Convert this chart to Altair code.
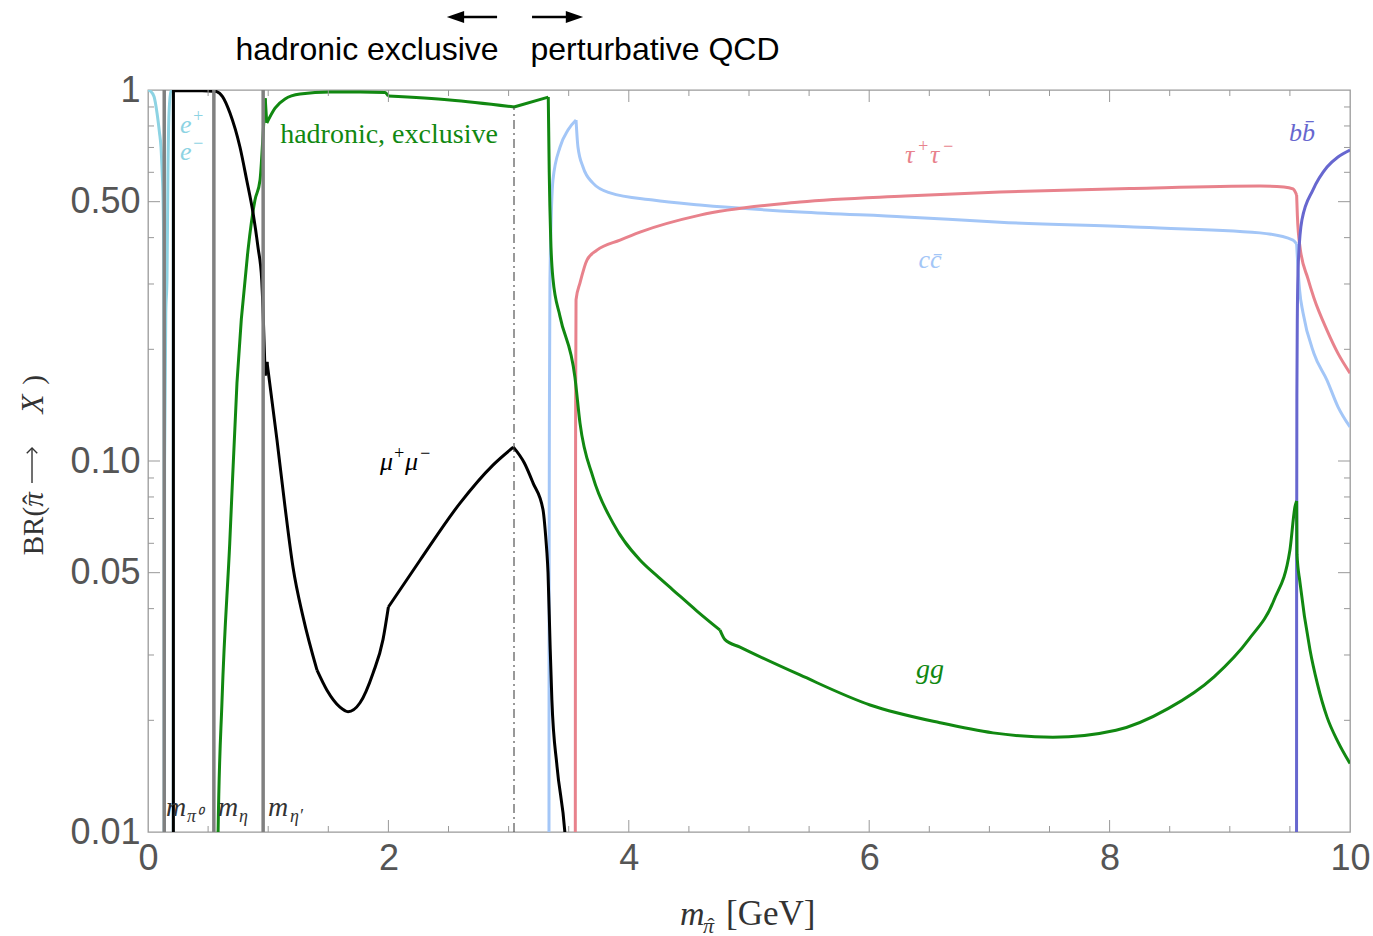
import altair as alt
import pandas as pd

W, H = 1202, 742

# ---------------- data ----------------
ee_x   = [0.0, 0.017, 0.05, 0.075, 0.095, 0.108, 0.118, 0.125, 0.131, 0.134, 0.1355,
          0.1355, 0.138, 0.148, 0.158, 0.166, 0.175, 0.19, 0.21, 0.2105]
ee_y   = [1.0, 0.995, 0.96, 0.867, 0.77, 0.702, 0.6, 0.515, 0.35, 0.15, 0.0005,
          0.0005, 0.1, 0.25, 0.31, 0.6, 0.867, 0.99, 0.995, 0.0005]
ee_seg = [0] * 11 + [1] * 9

mu_x = [0.2108, 0.2115, 0.3, 0.45, 0.54, 0.571, 0.62, 0.682, 0.765, 0.821, 0.874, 0.915, 0.946, 0.958, 0.975,
        0.975, 0.99,
        0.99, 1.073, 1.14, 1.206, 1.29, 1.406,
        1.406, 1.489, 1.597, 1.664, 1.764, 1.872, 1.955, 2.0,
        2.0, 2.263, 2.596, 2.87, 3.04,
        3.04, 3.13, 3.203, 3.286, 3.319,
        3.319, 3.328, 3.345, 3.36, 3.403, 3.469, 3.52]
mu_y = [0.0005, 0.995, 0.995, 0.995, 0.993, 0.99, 0.96, 0.867, 0.702, 0.572, 0.466, 0.377, 0.308, 0.25, 0.17,
        0.17, 0.185,
        0.185, 0.114, 0.0752, 0.0518, 0.038, 0.0273,
        0.0273, 0.0241, 0.0217, 0.0211, 0.0223, 0.0268, 0.033, 0.0404,
        0.0404, 0.054, 0.077, 0.0975, 0.109,
        0.109, 0.0989, 0.0873, 0.074, 0.0565,
        0.0565, 0.05, 0.032, 0.0227, 0.015, 0.0099, 0.005]
mu_seg = [0] * 15 + [1] * 2 + [2] * 6 + [3] * 8 + [4] * 5 + [5] * 5 + [6] * 7

had_x = [0.572, 0.582, 0.616, 0.68, 0.74, 0.832, 0.89, 0.932, 0.957, 0.975,
         0.975, 0.988,
         0.988, 1.057, 1.14, 1.265, 1.514, 1.764, 1.97, 2.0,
         2.0, 2.51, 3.045,
         3.045, 3.33,
         3.33, 3.338, 3.35, 3.369, 3.428, 3.552, 3.594, 3.702, 3.869, 4.093, 4.226, 4.368, 4.567, 4.759,
         4.759, 4.8, 4.925, 5.424, 6.007, 6.589, 7.03, 7.529, 8.053, 8.486, 8.869, 9.16, 9.368, 9.5, 9.542, 9.556,
         9.556, 9.559, 9.584, 9.667, 9.73, 9.809, 9.9, 10.0]
had_y = [0.004, 0.0095, 0.0227, 0.06, 0.162, 0.37, 0.505, 0.572, 0.756, 0.95,
         0.95, 0.815,
         0.815, 0.894, 0.946, 0.975, 0.988, 0.988, 0.985, 0.963,
         0.963, 0.94, 0.90,
         0.90, 0.957,
         0.957, 0.6, 0.4, 0.31, 0.245, 0.168, 0.1265, 0.0905, 0.068, 0.0541, 0.0493, 0.0449, 0.0394, 0.035,
         0.035, 0.033, 0.0315, 0.0265, 0.022, 0.0197, 0.0185, 0.018, 0.0188, 0.0215, 0.0262, 0.0331, 0.0422, 0.0575, 0.0752, 0.078,
         0.078, 0.056, 0.047, 0.031, 0.025, 0.0204, 0.0175, 0.0153]
had_seg = [0] * 10 + [1] * 2 + [2] * 8 + [3] * 3 + [4] * 2 + [5] * 14 + [6] * 16 + [7] * 8

spike_x = [0.546, 0.548, 0.550]
spike_y = [0.0005, 0.10, 0.0005]
spike_seg = [0, 0, 0]

cc_x = [3.334, 3.337, 3.34, 3.344, 3.369, 3.428, 3.494, 3.561,
        3.561, 3.577, 3.619, 3.702, 3.844, 4.2, 4.592, 5.424, 6.3, 7.088, 8.2, 9.251, 9.526, 9.556,
        9.556, 9.565, 9.58, 9.609, 9.7, 9.809, 9.9, 10.0]
cc_y = [0.0005, 0.05, 0.15, 0.308, 0.572, 0.702, 0.78, 0.83,
        0.83, 0.702, 0.62, 0.561, 0.528, 0.505, 0.49, 0.469, 0.455, 0.44, 0.427, 0.412, 0.394, 0.385,
        0.385, 0.34, 0.29, 0.251, 0.195, 0.165, 0.14, 0.1235]
cc_seg = [0] * 8 + [1] * 14 + [2] * 8

tau_x = [3.553, 3.556, 3.558, 3.561, 3.594, 3.652, 3.735, 3.927, 4.093, 4.592, 5.424, 6.3, 7.088, 8.2, 9.251, 9.45,
         9.526, 9.556,
         9.556, 9.562, 9.584, 9.65, 9.7, 9.809, 9.9, 10.0]
tau_y = [0.0005, 0.05, 0.15, 0.272, 0.302, 0.348, 0.37, 0.394, 0.414, 0.46, 0.499, 0.518, 0.531, 0.543, 0.551, 0.548,
         0.541, 0.521,
         0.521, 0.46, 0.377, 0.31, 0.275, 0.225, 0.195, 0.1725]
tau_seg = [0] * 18 + [1] * 8

bb_x = [9.554, 9.556, 9.558, 9.562, 9.57, 9.6, 9.692, 9.809, 9.9, 10.0]
bb_y = [0.0005, 0.05, 0.15, 0.25, 0.342, 0.446, 0.538, 0.62, 0.66, 0.689]
bb_seg = [0] * 10

meson_masses = [0.135, 0.548, 0.958]
boundary_x = [3.045]
boundary_y = [0.01]
boundary_y2 = [0.9]

x_tick_labels = [0, 2, 4, 6, 8, 10]
y_tick_labels = [0.01, 0.05, 0.1, 0.5, 1]
x_major = [2, 4, 6, 8]
x_minor = [0.5, 1, 1.5, 2.5, 3, 3.5, 4.5, 5, 5.5, 6.5, 7, 7.5, 8.5, 9, 9.5]
y_major = [0.05, 0.1, 0.5]
y_minor = [0.02, 0.03, 0.04, 0.06, 0.07, 0.08, 0.09, 0.2, 0.3, 0.4, 0.6, 0.7, 0.8, 0.9]

# ---------------- scales / axes ----------------
XS = alt.Scale(domain=[0, 10], nice=False, zero=False)
YS = alt.Scale(type="log", domain=[0.01, 1], nice=False)
XAX = alt.Axis(values=x_tick_labels, format="d", ticks=False, domain=False, grid=False,
               labelFont="Liberation Sans", labelFontSize=36, labelColor="#555555",
               labelPadding=9, labelFlush=False, labelOverlap=False, title=None)
YAX = alt.Axis(values=y_tick_labels, ticks=False, domain=False, grid=False,
               labelExpr="datum.value >= 0.999 ? '1' : format(datum.value, '.2f')",
               labelFont="Liberation Sans", labelFontSize=36, labelColor="#555555",
               labelPadding=8, labelFlush=False, labelOverlap=False, title=None)


def X(f="x"):
    return alt.X(f + ":Q", scale=XS, axis=XAX, title=None)


def Y(f="y"):
    return alt.Y(f + ":Q", scale=YS, axis=YAX, title=None)


def line(xv, yv, seg, color, width=3.0, interp="monotone"):
    df = pd.DataFrame({"x": xv, "y": yv, "seg": seg, "i": list(range(len(xv)))})
    return alt.Chart(df).mark_line(color=color, strokeWidth=width, clip=True, interpolate=interp).encode(
        x=X(), y=Y(), detail="seg:N", order="i:Q")


def text(items, color, size, font="Liberation Serif", style="italic", align="center",
         baseline="middle", angle=None, dx=0, dy=0):
    df = pd.DataFrame(items, columns=["x", "y", "t"])
    kw = dict(color=color, fontSize=size, font=font, fontStyle=style, align=align,
              baseline=baseline, dx=dx, dy=dy)
    if angle is not None:
        kw["angle"] = angle
    return alt.Chart(df).mark_text(**kw).encode(x=X(), y=Y(), text="t:N")


def sup_label(x, y, parts, color):
    out = []
    for t, dx, dy, size in parts:
        out.append(text([(x, y, t)], color, size, align="left", baseline="alphabetic", dx=dx, dy=dy))
    return out


GREEN = "#118811"
CYAN = "#8dd3e3"
LBLUE = "#a3c6f7"
RED = "#e8828c"
PURP = "#6767cf"

layers = []
layers.append(line(ee_x, ee_y, ee_seg, CYAN))
layers.append(line(cc_x, cc_y, cc_seg, LBLUE))
layers.append(line(tau_x, tau_y, tau_seg, RED))
layers.append(line(bb_x, bb_y, bb_seg, PURP))
layers.append(line(spike_x, spike_y, spike_seg, GREEN, 1.5, "linear"))
layers.append(line(had_x, had_y, had_seg, GREEN))
layers.append(line(mu_x, mu_y, mu_seg, "#000000"))

# meson mass lines
layers.append(alt.Chart(pd.DataFrame({"x": meson_masses})).mark_rule(
    color="#808080", strokeWidth=3.5).encode(x=X(), y=alt.value(0), y2=alt.value(H)))

# boundary dash-dot
layers.append(alt.Chart(pd.DataFrame({"x": boundary_x, "y": boundary_y, "y2": boundary_y2})).mark_rule(
    color="#333333", strokeWidth=1, strokeDash=[9, 4, 2, 4]).encode(x=X(), y=Y(), y2="y2:Q"))

# inward frame ticks
TC = "#999999"
for vals, L in ((x_major, 12), (x_minor, 6)):
    d = pd.DataFrame({"x": vals})
    layers.append(alt.Chart(d).mark_rule(color=TC, strokeWidth=1).encode(
        x=X(), y=alt.value(H), y2=alt.value(H - L)))
    layers.append(alt.Chart(d).mark_rule(color=TC, strokeWidth=1).encode(
        x=X(), y=alt.value(0), y2=alt.value(L)))
for vals, L in ((y_major, 12), (y_minor, 6)):
    d = pd.DataFrame({"y": vals})
    layers.append(alt.Chart(d).mark_rule(color=TC, strokeWidth=1).encode(
        y=Y(), x=alt.value(0), x2=alt.value(L)))
    layers.append(alt.Chart(d).mark_rule(color=TC, strokeWidth=1).encode(
        y=Y(), x=alt.value(W), x2=alt.value(W - L)))

# curve labels
layers.append(text([(2.005, 0.756, "hadronic, exclusive")], GREEN, 28, style="normal"))
layers += sup_label(0.266, 0.7657, [("e", 0, 0, 26), ("+", 12, -11, 18)], CYAN)
layers += sup_label(0.266, 0.6476, [("e", 0, 0, 26), ("−", 12, -11, 18)], CYAN)
layers += sup_label(1.930, 0.0946, [("μ", 0, 0, 26), ("+", 13, -11, 18), ("μ", 25, 0, 26), ("−", 39, -11, 18)], "#000000")
layers += sup_label(6.298, 0.6356, [("τ", 0, 0, 26), ("+", 12, -11, 18), ("τ", 25, 0, 26), ("−", 37, -11, 18)], RED)
layers.append(text([(6.506, 0.348, "cc̄")], LBLUE, 26))
layers.append(text([(6.506, 0.0273, "gg")], GREEN, 28))
layers.append(text([(9.6, 0.766, "bb̄")], PURP, 26))

# meson mass labels
layers.append(text([(0.15, 0.01104, "m"), (0.582, 0.01104, "m"), (0.998, 0.01104, "m")],
                   "#333333", 28, align="left", baseline="alphabetic"))
layers.append(text([(0.324, 0.01064, "π⁰"), (0.757, 0.01064, "η"), (1.181, 0.01064, "η′")],
                   "#333333", 18, align="left", baseline="alphabetic"))

# x axis title: m_{pi-hat} [GeV]
TT = "#333333"
layers.append(text([(4.426, 0.00561, "m")], TT, 34, align="left", baseline="alphabetic"))
layers.append(text([(4.617, 0.00534, "π")], TT, 22, align="left", baseline="alphabetic"))
layers.append(text([(4.684, 0.00534, "ˆ")], TT, 22, style="normal", align="center", baseline="alphabetic"))
layers.append(text([(4.809, 0.00561, "[GeV]")], TT, 35, style="normal", align="left", baseline="alphabetic"))

# y axis title: BR(pi-hat -> X), rotated
YT_X = -0.8735
layers.append(text([(YT_X, 0.0752, "BR(")], TT, 29, style="normal", align="right", baseline="alphabetic", angle=270))
layers.append(text([(YT_X, 0.0787, "π")], TT, 29, align="center", baseline="alphabetic", angle=270))
layers.append(text([(YT_X, 0.0787, "ˆ")], TT, 29, style="normal", align="center", baseline="alphabetic", angle=270))
layers.append(text([(YT_X, 0.1424, "X")], TT, 31, align="center", baseline="alphabetic", angle=270))
layers.append(text([(YT_X, 0.1653, ")")], TT, 29, style="normal", align="center", baseline="alphabetic", angle=270))
# the arrow of the y title (drawn, rotated frame: pointing up)
ya_df = pd.DataFrame({"x": [-0.965], "y": [0.0872], "y2": [0.1080]})
layers.append(alt.Chart(ya_df).mark_rule(color=TT, strokeWidth=1.4).encode(x=X(), y=Y(), y2="y2:Q"))
layers.append(alt.Chart(pd.DataFrame({"x": [-0.965], "y": [0.1084]})).mark_point(
    shape="M -1 1 L 0 0 L 1 1", filled=False, size=110, color=TT, strokeWidth=1.4, opacity=1).encode(x=X(), y=Y()))

# top annotation
layers.append(text([(1.822, 1.282, "hadronic exclusive"), (4.218, 1.282, "perturbative QCD")],
                   "#000000", 32, font="Liberation Sans", style="normal"))
arrow_df = pd.DataFrame({"x": [2.558, 3.195], "x2": [2.904, 3.548], "y": [1.573, 1.573]})
layers.append(alt.Chart(arrow_df).mark_rule(color="#000000", strokeWidth=2.5).encode(
    x=X(), x2="x2:Q", y=Y()))
layers.append(alt.Chart(pd.DataFrame({"x": [2.558], "y": [1.573]})).mark_point(
    shape="M -1 0 L 1 -0.7 L 1 0.7 Z", filled=True, size=300, color="#000000", opacity=1).encode(x=X(), y=Y()))
layers.append(alt.Chart(pd.DataFrame({"x": [3.548], "y": [1.573]})).mark_point(
    shape="M 1 0 L -1 -0.7 L -1 0.7 Z", filled=True, size=300, color="#000000", opacity=1).encode(x=X(), y=Y()))

chart = alt.layer(*layers).properties(
    width=W, height=H,
    autosize=alt.AutoSizeParams(type="none"),
    padding={"left": 148, "top": 90, "right": 23, "bottom": 104},
    background="white",
).configure_view(stroke="#9a9a9a", strokeWidth=1.3)

chart.save("out.html", embed_options={"renderer": "svg", "actions": False})
